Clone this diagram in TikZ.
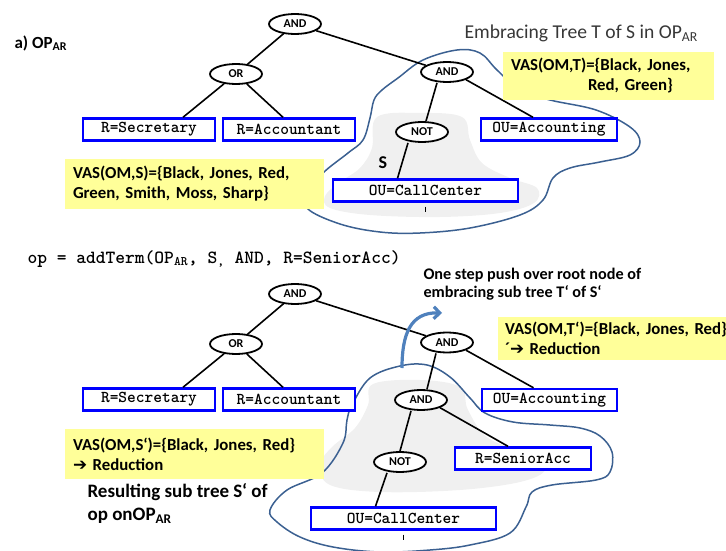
\documentclass[tikz,border=0pt]{standalone}
\usepackage{fontspec}
\setmainfont{Carlito}
\newfontfamily\symfont{DejaVu Sans}
\usetikzlibrary{shapes.geometric,arrows.meta}

\definecolor{notefill}{RGB}{255,255,153}
\definecolor{termblue}{RGB}{0,0,255}
\definecolor{hullblue}{RGB}{59,96,145}
\definecolor{pushblue}{RGB}{79,129,189}
\definecolor{subtreegrey}{RGB}{240,240,240}
\definecolor{captiongrey}{RGB}{55,55,55}

\tikzset{
  opnode/.style={ellipse, draw, line width=1.8pt, fill=white,
    minimum width=52pt, minimum height=20pt, inner sep=0pt,
    font=\fontsize{12}{12}\selectfont\bfseries},
  term/.style={rectangle, draw=termblue, line width=2.4pt, fill=white,
    minimum height=22pt, inner sep=0pt,
    font=\ttfamily\bfseries\fontsize{16.6}{17}\selectfont},
  link/.style={line width=1.6pt},
  note/.style={rectangle, fill=notefill, inner ysep=0pt, inner xsep=8pt,
    align=left, font=\fontsize{16.8}{20}\selectfont\bfseries},
  hull/.style={draw=hullblue, line width=1.5pt},
  subtree/.style={fill=subtreegrey},
  pusharrow/.style={draw=pushblue, line width=3.2pt,
    -{Straight Barb[length=6pt,width=12pt]}},
  stub/.style={line width=1.2pt},
}

\begin{document}
\begin{tikzpicture}[x=1pt,y=-1pt]
\useasboundingbox (0,0) rectangle (726,551);

% ---------- upper operator tree ----------
% sub tree S
\fill[subtree] plot[smooth cycle, tension=0.6] coordinates {
  (377,117) (420,113) (462,117) (470,140) (482,163) (510,178) (537,188)
  (534,203) (500,213) (440,217) (370,215) (330,208) (325,196) (340,182)
  (360,168) (372,148)};
% embracing tree T
\draw[hull] plot[smooth cycle, tension=0.6] coordinates {
  (312,190) (323,173) (348,153) (363,140) (370,118) (374,100) (382,90)
  (398,78) (423,60) (457,50) (480,53) (497,70) (520,90) (550,100)
  (596,110) (630,127) (640,142) (630,155) (600,162) (570,168) (553,178)
  (543,200) (520,215) (470,228) (420,233) (380,232) (340,224) (307,208)};

\node[opnode] (rootA) at (295,24) {AND};
\node[opnode] (orA)   at (236,74) {OR};
\node[opnode] (andA)  at (447,72) {AND};
\node[opnode] (notA)  at (422,132) {NOT};
\node[term, minimum width=132pt] (secA)   at (149,129.5) {R=Secretary};
\node[term, minimum width=132pt] (accA)   at (289,129.5) {R=Accountant};
\node[term, minimum width=136pt] (ouaccA) at (549,129.5) {OU=Accounting};
\node[term, minimum width=185pt] (ccA)    at (425.5,190.5) {OU=CallCenter};

\draw[link] (rootA) -- (orA);
\draw[link] (rootA) -- (andA);
\draw[link] (orA) -- ([xshift=34pt]secA.north);
\draw[link] (orA) -- ([xshift=-6pt]accA.north);
\draw[link] ([xshift=-10pt]andA.south) -- ([xshift=4pt]notA.north);
\draw[link] (andA.south east) -- ([xshift=-16pt]ouaccA.north);
\draw[link] ([xshift=-14pt]notA.south) -- ([xshift=-28pt]ccA.north);
\draw[stub] ([yshift=-4pt]ccA.south) -- ([yshift=-9pt]ccA.south);

\node[font=\fontsize{18}{18}\selectfont\bfseries] (lblS) at (383,163) {S};

\node[anchor=west, font=\fontsize{17}{17}\selectfont\bfseries] (lblA) at (11,43)
  {a) OP\textsubscript{AR}};
\node[anchor=west, text=captiongrey, font=\fontsize{19.6}{20}\selectfont] (capT)
  at (461,33) {Embracing Tree T of S in OP\textsubscript{AR}};

\node[note, minimum width=211pt, minimum height=48pt, text width=195pt] (vasT)
  at (608.5,76) {VAS(OM,T)=\{Black, Jones,\\\hspace*{77pt}Red, Green\}};
\node[note, minimum width=259pt, minimum height=50pt, text width=243pt] (vasS)
  at (194.5,184) {VAS(OM,S)=\{Black, Jones, Red,\\Green, Smith, Moss, Sharp\}};

% ---------- call ----------
\node[anchor=west, font=\ttfamily\bfseries\fontsize{18.6}{19}\selectfont] (call)
  at (24,259) {op = addTerm(OP\textsubscript{AR}, S\textsubscript{,} AND, R=SeniorAcc)};

% ---------- lower operator tree ----------
\fill[subtree] plot[smooth cycle, tension=0.6] coordinates {
  (373,384) (420,380) (460,387) (468,410) (488,438) (530,455) (545,470)
  (520,482) (460,490) (380,492) (330,485) (320,465) (332,447) (355,428)
  (368,405)};
\draw[hull] plot[smooth cycle, tension=0.6] coordinates {
  (270,510) (287,490) (322,473) (343,443) (347,420) (352,405) (370,378)
  (400,366) (427,365) (450,377) (470,398) (485,413) (513,422) (550,425)
  (580,428) (600,436) (612,452) (610,472) (596,480) (552,485) (532,492)
  (526,507) (510,533) (470,545) (430,550) (380,552) (333,547) (300,537)
  (277,522)};

\node[opnode] (rootB)  at (295,294) {AND};
\node[opnode] (orB)    at (236,344) {OR};
\node[opnode] (andB)   at (447,342.5) {AND};
\node[opnode] (innerB) at (421,400) {AND};
\node[opnode] (notB)   at (400,462) {NOT};
\node[term, minimum width=132pt] (secB)   at (149,399.5) {R=Secretary};
\node[term, minimum width=132pt] (accB)   at (289,399.5) {R=Accountant};
\node[term, minimum width=135pt] (ouaccB) at (549.5,400) {OU=Accounting};
\node[term, minimum width=136pt] (senB)   at (523,458.5) {R=SeniorAcc};
\node[term, minimum width=185pt] (ccB)    at (403.5,518.5) {OU=CallCenter};

\draw[link] (rootB) -- (orB);
\draw[link] (rootB) -- (andB);
\draw[link] (orB) -- ([xshift=34pt]secB.north);
\draw[link] (orB) -- ([xshift=-6pt]accB.north);
\draw[link] ([xshift=-11pt]andB.south) -- ([xshift=6pt]innerB.north);
\draw[link] (andB.south east) -- ([xshift=-16pt]ouaccB.north);
\draw[link] (innerB.south east) -- ([xshift=-15pt]senB.north);
\draw[link] ([xshift=-10pt]innerB.south) -- (notB.north);
\draw[link] ([xshift=-13pt]notB.south) -- ([xshift=-28pt]ccB.north);
\draw[stub] ([yshift=-4pt]ccB.south) -- ([yshift=-9pt]ccB.south);

% push over the root of T'
\coordinate (pushfrom) at (402,368);
\coordinate (pushto) at (442,313);
\draw[pusharrow] (pushfrom) .. controls (402,335) and (410,312) .. (pushto);

\node[anchor=west, align=left, font=\fontsize{16.2}{18}\selectfont\bfseries] (pushtxt)
  at (420,284) {One step push over root node of\\embracing sub tree T‘ of S‘};

\node[note, inner xsep=7pt, minimum width=250pt, minimum height=43pt, text width=236pt]
  (vasTp) at (623,338.5)
  {VAS(OM,T‘)=\{Black, Jones, Red\}\\´{\symfont ➔} Reduction};
\node[note, minimum width=259pt, minimum height=50pt, text width=243pt] (vasSp)
  at (194.5,454) {VAS(OM,S‘)=\{Black, Jones, Red\}\\{\symfont ➔} Reduction};

\node[anchor=west, align=left, font=\fontsize{19}{23}\selectfont\bfseries] (result)
  at (84,503.5) {Resulting sub tree S‘ of\\op onOP\textsubscript{AR}};
\end{tikzpicture}
\end{document}
